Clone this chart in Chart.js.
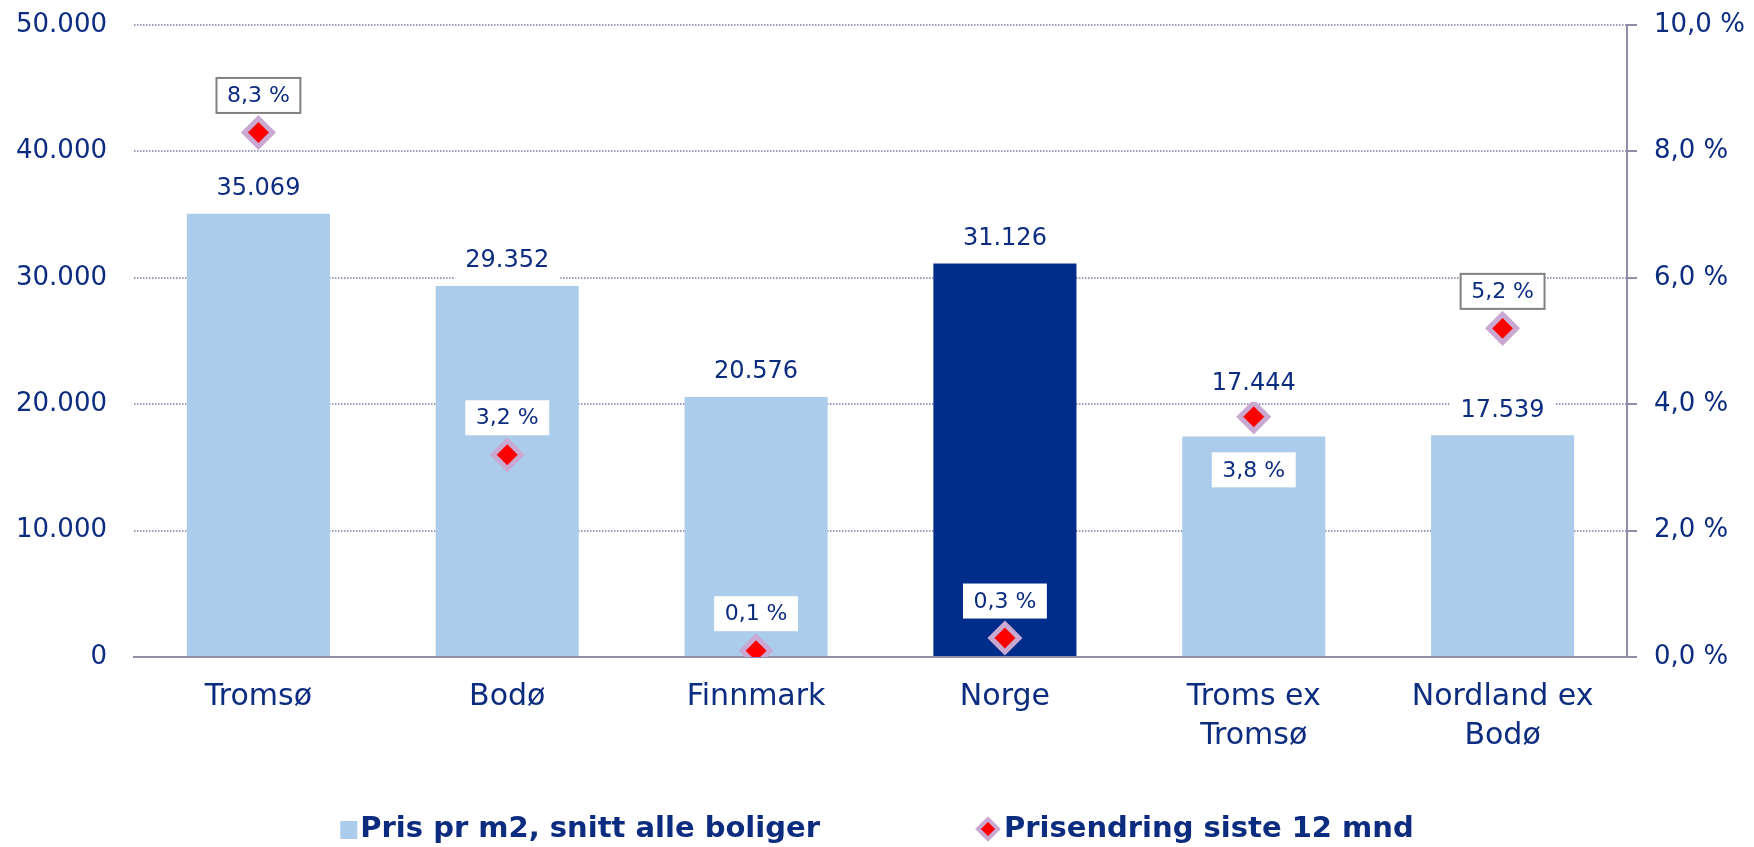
<!DOCTYPE html>
<html>
<head>
<meta charset="utf-8">
<script src="https://cdn.jsdelivr.net/npm/chart.js@4.4.0/dist/chart.umd.min.js"></script>
<style>
  html, body { margin: 0; padding: 0; background: #fff; }
  #wrap { width: 1754px; height: 847px; }
</style>
</head>
<body>
<div id="wrap"><canvas id="chart"></canvas></div>
<script>
// ---- data ----
const categories = [['Tromsø'], ['Bodø'], ['Finnmark'], ['Norge'], ['Troms ex', 'Tromsø'], ['Nordland ex', 'Bodø']]
const prisPrM2 = [35069, 29352, 20576, 31126, 17444, 17539]
const prisendring = [8.3, 3.2, 0.1, 0.3, 3.8, 5.2]
const leftTicks = [0, 10000, 20000, 30000, 40000, 50000]
const rightTicks = [0, 2, 4, 6, 8, 10]
const seriesNames = ['Pris pr m2, snitt alle boliger', 'Prisendring siste 12 mnd']

// ---- styles ----
const TEXT = '#0c2c80'
const LIGHT = '#abcdeb'
const DARK = '#002c8c'
const AXIS = '#8e8ea8'
const GRID = '#9a9ab8'
const RED = '#ff0000'
const LILAC = '#c9a9d1'
const FONT = '"DejaVu Sans", Verdana, sans-serif'

const fmtThousands = v => String(v).replace(/\B(?=(\d{3})+(?!\d))/g, '.')
const fmtPct = v => v.toFixed(1).replace('.', ',') + ' %'

// bar values + percent labels
const labelPlugin = {
  id: 'valueLabels',
  afterDatasetsDraw(chart) {
    const ctx = chart.ctx
    const bars = chart.getDatasetMeta(0).data
    const points = chart.getDatasetMeta(1).data
    ctx.save()
    ctx.textAlign = 'center'
    ctx.textBaseline = 'middle'
    bars.forEach((bar, i) => {
      const pt = points[i]
      let y = bar.y - 26
      let pctBelow = false
      // move the bar label out of the way of the marker
      if (Math.abs(pt.y - y) < 30) { y = pt.y - 34; pctBelow = true }

      ctx.font = '24px ' + FONT
      const txt = fmtThousands(prisPrM2[i])
      const w = ctx.measureText(txt).width + 22
      ctx.fillStyle = '#fff'
      ctx.fillRect(bar.x - w / 2, y - 19, w, 38)
      ctx.fillStyle = TEXT
      ctx.fillText(txt, bar.x, y + 1)

      // percent label
      const py = pctBelow ? pt.y + 53 : pt.y - 37
      ctx.font = '22px ' + FONT
      const ptxt = fmtPct(prisendring[i])
      const pw = ctx.measureText(ptxt).width + 21
      const ph = 35
      ctx.fillStyle = '#fff'
      ctx.fillRect(pt.x - pw / 2, py - ph / 2, pw, ph)
      if (py < bar.y) {
        ctx.strokeStyle = '#808080'
        ctx.lineWidth = 2
        ctx.strokeRect(pt.x - pw / 2, py - ph / 2, pw, ph)
      }
      ctx.fillStyle = TEXT
      ctx.fillText(ptxt, pt.x, py + 1)
    })
    ctx.restore()
  }
}

// legend at the bottom
const legendPlugin = {
  id: 'bottomLegend',
  afterDraw(chart) {
    const ctx = chart.ctx
    const ds = chart.data.datasets
    const y = 829
    const gap = 158
    ctx.save()
    ctx.font = 'bold 29px ' + FONT
    ctx.textBaseline = 'middle'
    ctx.textAlign = 'left'
    const widths = [20, 26].map((off, k) => off + ctx.measureText(ds[k].label).width)
    let x = (chart.width - (widths[0] + gap + widths[1])) / 2
    // square for the bars
    ctx.fillStyle = LIGHT
    ctx.fillRect(x, y - 8, 17, 18)
    ctx.fillStyle = TEXT
    ctx.fillText(ds[0].label, x + 20, y)
    x += widths[0] + gap
    // diamond for the markers
    const cx = x + 10
    ctx.beginPath()
    ctx.moveTo(cx - 10, y); ctx.lineTo(cx, y - 10); ctx.lineTo(cx + 10, y); ctx.lineTo(cx, y + 10); ctx.closePath()
    ctx.fillStyle = RED
    ctx.fill()
    ctx.strokeStyle = LILAC
    ctx.lineWidth = 4
    ctx.stroke()
    ctx.fillStyle = TEXT
    ctx.fillText(ds[1].label, x + 26, y)
    ctx.restore()
  }
}

// fixed axis sizes, no automatic label padding at top/bottom
const fixWidth = w => s => { s.width = w; s.paddingTop = 0; s.paddingBottom = 0 }

Chart.defaults.font.family = FONT
Chart.defaults.color = TEXT

new Chart(document.getElementById('chart').getContext('2d'), {
  type: 'bar',
  data: {
    labels: categories,
    datasets: [
      {
        label: seriesNames[0],
        data: prisPrM2,
        yAxisID: 'y',
        backgroundColor: categories.map(c => c[0] === 'Norge' ? DARK : LIGHT),
        borderWidth: 0,
        categoryPercentage: 1,
        barPercentage: 0.575,
        order: 2
      },
      {
        type: 'line',
        label: seriesNames[1],
        data: prisendring,
        yAxisID: 'y1',
        showLine: false,
        pointStyle: 'rectRot',
        pointRadius: 14,
        pointHoverRadius: 14,
        pointBorderWidth: 5,
        pointBackgroundColor: RED,
        pointBorderColor: LILAC,
        order: 1
      }
    ]
  },
  options: {
    responsive: true,
    maintainAspectRatio: false,
    animation: false,
    devicePixelRatio: 1,
    layout: { padding: { top: 25, left: 0, right: 0, bottom: 0 } },
    plugins: {
      legend: { display: false },
      tooltip: { enabled: false }
    },
    scales: {
      x: {
        grid: { display: false },
        border: { display: true, color: AXIS, width: 2 },
        ticks: { font: { size: 30, lineHeight: 1.3 }, color: TEXT, padding: 13 },
        afterFit: s => { s.height = 190 }
      },
      y: {
        position: 'left',
        min: 0,
        max: 50000,
        afterBuildTicks: a => { a.ticks = leftTicks.map(v => ({ value: v })) },
        ticks: { font: { size: 26 }, color: TEXT, padding: 27, callback: v => fmtThousands(v) },
        grid: { color: GRID, lineWidth: 2, drawTicks: false },
        border: { display: false, dash: [1.5, 1.5] },
        afterFit: fixWidth(134)
      },
      y1: {
        position: 'right',
        min: 0,
        max: 10,
        afterBuildTicks: a => { a.ticks = rightTicks.map(v => ({ value: v })) },
        ticks: { font: { size: 26 }, color: TEXT, padding: 17, callback: v => fmtPct(v) },
        grid: { drawOnChartArea: false, drawTicks: true, tickLength: 10, color: AXIS, lineWidth: 2 },
        border: { display: true, color: AXIS, width: 2 },
        afterFit: fixWidth(127)
      }
    }
  },
  plugins: [labelPlugin, legendPlugin]
})
</script>
</body>
</html>
